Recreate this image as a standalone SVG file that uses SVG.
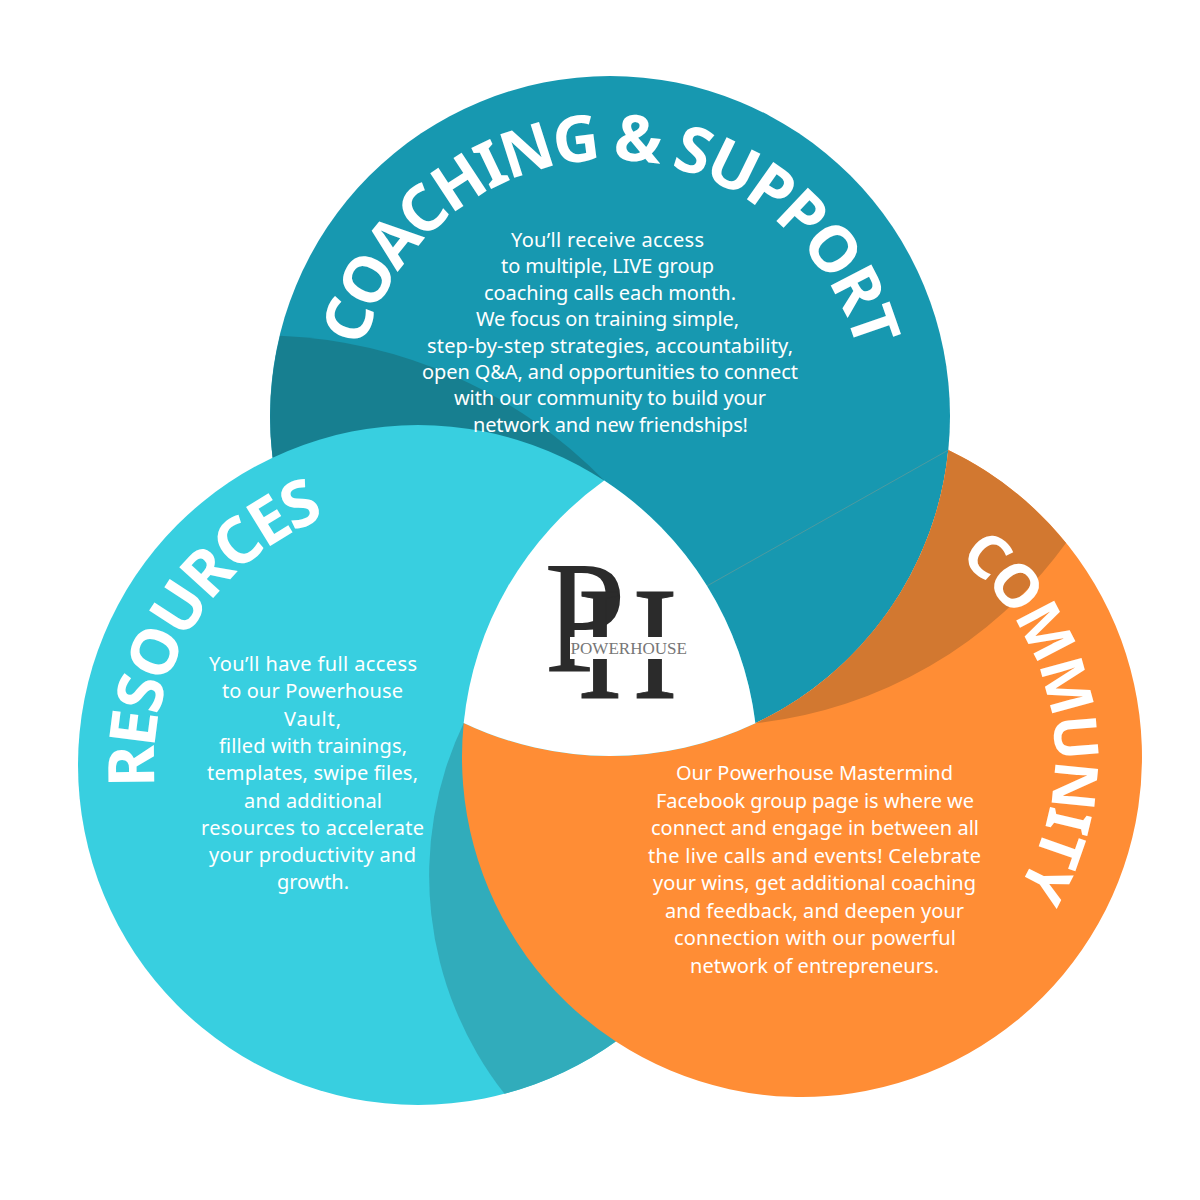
<svg xmlns="http://www.w3.org/2000/svg" width="1200" height="1200" viewBox="0 0 1200 1200">
<style>
.b{font-family:"Noto Sans","Open Sans",sans-serif;font-size:20px;fill:#fff}
.h{font-family:"Noto Sans","Open Sans",sans-serif;font-weight:700;fill:#fff;text-anchor:middle;letter-spacing:-3px;font-size:64px}
.s{font-family:"Liberation Serif",serif;fill:#2b2b2b;font-size:160px}
</style>
<defs>
<path id="pT" d="M354,416 A256,256 0 0 1 866,416 A256,256 0 0 1 354,416"/>
<path id="pL" d="M418,1029 A264,264 0 0 1 418,501 A264,264 0 0 1 418,1029"/>
<path id="pR" d="M802,504 A253,253 0 0 1 802,1010 A253,253 0 0 1 802,504"/>
</defs>
<rect width="1200" height="1200" fill="#fff"/>
<g id="coaching-circle">
<circle cx="610" cy="416" r="340" fill="#1798B0"/>
<path d="M604.2,480.5 A480,480 0 0 0 280,335.7 A340,340 0 0 0 272.6,457.7 Z" fill="#177F90"/>
<line x1="706" y1="586.5" x2="948.3" y2="450.1" stroke="#5c9a9c" stroke-width="0.8"/>
</g>
<g id="resources-circle">
<circle cx="418" cy="765" r="340" fill="#38CFE0"/>
<path d="M463.7,722.9 A354,354 0 0 0 504.5,1093.8 A340,340 0 0 0 615.8,1041.5 Z" fill="#31ACBB"/>
</g>
<g id="community-circle">
<path d="M463.7,722.9 A340,340 0 0 0 755.4,723.3 A340,340 0 0 0 948.3,450.1 A340,340 0 1 1 463.7,722.9 Z" fill="#FF8D35"/>
<path d="M755.4,723.3 A443,443 0 0 0 1066,543 A340,340 0 0 0 948.3,450.1 A340,340 0 0 1 755.4,723.3 Z" fill="#D27830"/>
</g>
<g id="center-logo">
<path d="M604.2,480.5 A340,340 0 0 0 463.7,722.9 A340,340 0 0 0 755.4,723.3 A340,340 0 0 0 604.2,480.5 Z" fill="#fff"/>
<text class="s" x="544" y="671" textLength="82" lengthAdjust="spacingAndGlyphs">P</text>
<text class="s" x="578" y="698" textLength="99" lengthAdjust="spacingAndGlyphs" stroke="#2b2b2b" stroke-width="1">H</text>
<rect x="570" y="637" width="118" height="22" fill="#fff"/>
<text x="570.5" y="653.5" font-family="Liberation Serif, serif" font-size="17.5" fill="#777" textLength="116.5" lengthAdjust="spacingAndGlyphs">POWERHOUSE</text>
</g>
<g id="coaching-text">
<text class="h"><textPath href="#pT" startOffset="25%">COACHING &amp; SUPPORT</textPath></text>
<text class="b" x="511" y="247" textLength="193">You’ll receive access</text>
<text class="b" x="501" y="273.4" textLength="213">to multiple, LIVE group</text>
<text class="b" x="484" y="299.8" textLength="252">coaching calls each month.</text>
<text class="b" x="476" y="326.2" textLength="263">We focus on training simple,</text>
<text class="b" x="427" y="352.6" textLength="366">step-by-step strategies, accountability,</text>
<text class="b" x="422" y="379" textLength="376">open Q&amp;A, and opportunities to connect</text>
<text class="b" x="454" y="405.4" textLength="312">with our community to build your</text>
<text class="b" x="473" y="431.8" textLength="275">network and new friendships!</text>
</g>
<g id="resources-text">
<text class="h"><textPath href="#pL" startOffset="33.9%">RESOURCES</textPath></text>
<text class="b" x="209" y="671" textLength="208">You’ll have full access</text>
<text class="b" x="222" y="698.3" textLength="181">to our Powerhouse</text>
<text class="b" x="284" y="725.6" textLength="57">Vault,</text>
<text class="b" x="219" y="752.9" textLength="188">filled with trainings,</text>
<text class="b" x="207" y="780.2" textLength="211">templates, swipe files,</text>
<text class="b" x="244" y="807.5" textLength="138">and additional</text>
<text class="b" x="201" y="834.8" textLength="223">resources to accelerate</text>
<text class="b" x="209" y="862.1" textLength="207">your productivity and</text>
<text class="b" x="277" y="889.4" textLength="72">growth.</text>
</g>
<g id="community-text">
<text class="h" style="font-size:60px;letter-spacing:-2.5px"><textPath href="#pR" startOffset="22.1%">COMMUNITY</textPath></text>
<text class="b" x="676" y="780" textLength="277">Our Powerhouse Mastermind</text>
<text class="b" x="656" y="807.5" textLength="318">Facebook group page is where we</text>
<text class="b" x="651" y="835" textLength="328">connect and engage in between all</text>
<text class="b" x="648" y="862.5" textLength="333">the live calls and events! Celebrate</text>
<text class="b" x="653" y="890" textLength="323">your wins, get additional coaching</text>
<text class="b" x="665" y="917.5" textLength="299">and feedback, and deepen your</text>
<text class="b" x="674" y="945" textLength="282">connection with our powerful</text>
<text class="b" x="690" y="972.5" textLength="249">network of entrepreneurs.</text>
</g>
</svg>
